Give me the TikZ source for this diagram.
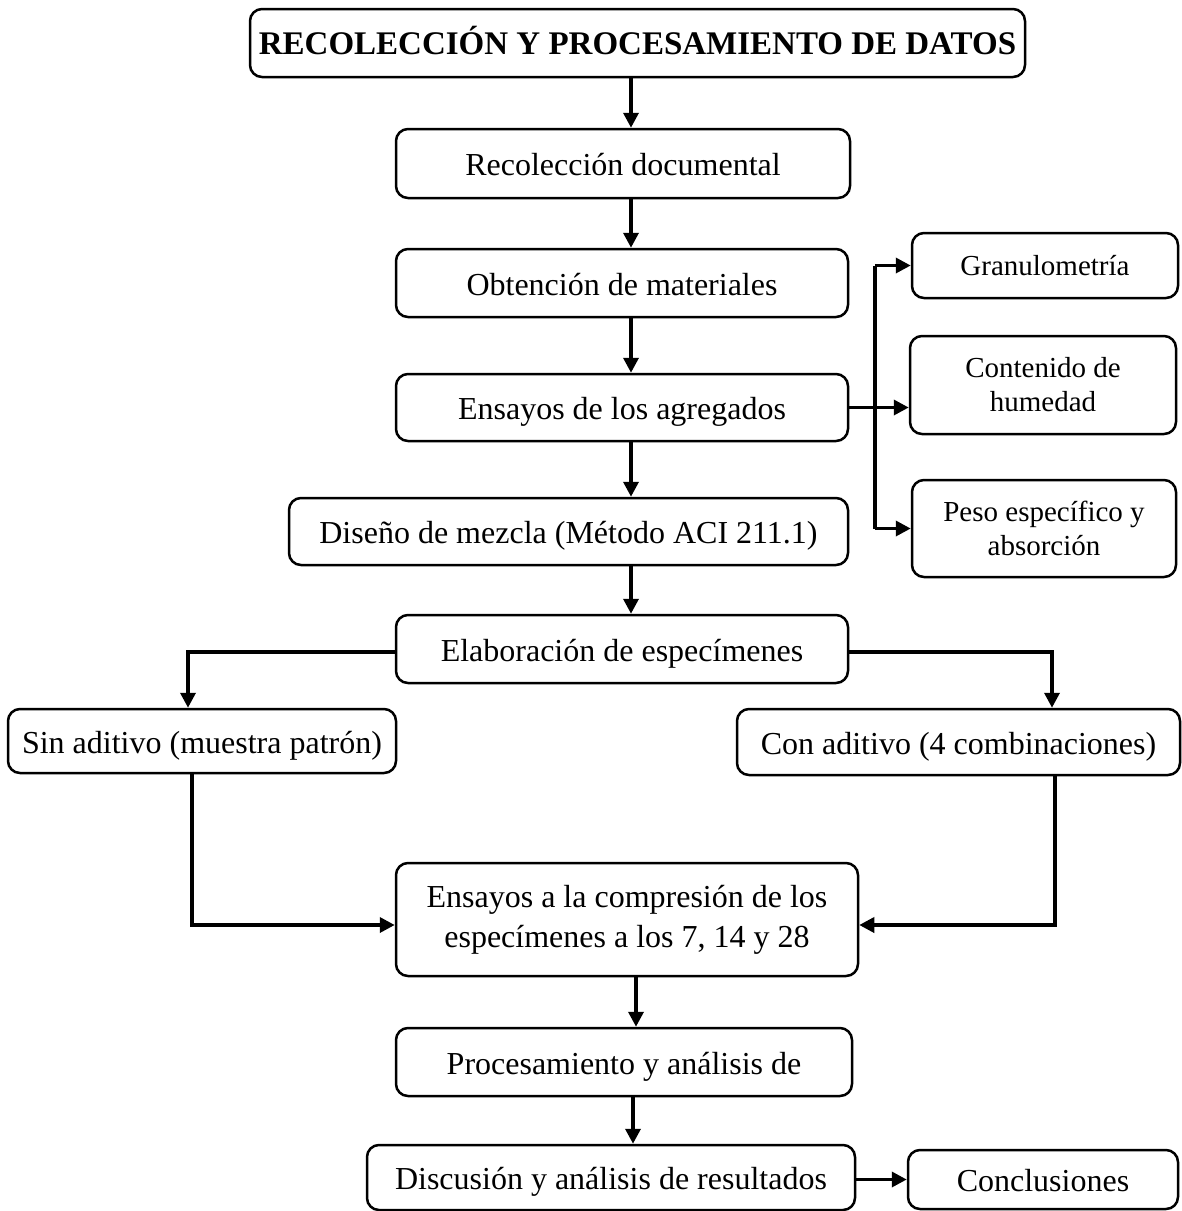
\documentclass[tikz,border=0pt]{standalone}
\usepackage{fontspec}
\setmainfont{Liberation Serif}
\usetikzlibrary{arrows.meta}
\begin{document}
\begin{tikzpicture}[x=1pt,y=-1pt,
 box/.style={draw, line width=2.5pt, rounded corners=12pt, inner sep=0pt, align=center, font=\fontsize{32}{40}\selectfont},
 one/.style={text height=30pt, text depth=6pt},
 sidebox/.style={box, font=\fontsize{29}{34}\selectfont},
 arr/.style={line width=3.5pt, -{Triangle[length=15pt,width=15pt]}},
 ln/.style={line width=3.5pt}]
\useasboundingbox (0,0) rectangle (1182,1211);
\node[box, minimum width=775pt, minimum height=68pt, text height=28pt, text depth=6pt, font=\bfseries\fontsize{33}{40}\selectfont] (title) at (637.5,43) {RECOLECCIÓN Y PROCESAMIENTO DE DATOS};
\node[box, one, minimum width=454pt, minimum height=69pt] (recol) at (623,163.5) {Recolección documental};
\node[box, one, minimum width=452pt, minimum height=68pt] (obt) at (622,283) {Obtención de materiales};
\node[box, one, minimum width=452pt, minimum height=67pt] (ensag) at (622,407.5) {Ensayos de los agregados};
\node[box, one, minimum width=559pt, minimum height=67pt] (diseno) at (568.5,531.5) {Diseño de mezcla (Método ACI 211.1)};
\node[sidebox, minimum width=266pt, minimum height=65pt] (gran) at (1045,265.5) {Granulometría};
\node[sidebox, minimum width=266pt, minimum height=98pt] (cont) at (1043,385) {Contenido de\\humedad};
\node[sidebox, minimum width=264pt, minimum height=97pt] (peso) at (1044,528.5) {Peso específico y\\absorción};
\node[box, one, minimum width=452pt, minimum height=68pt] (elab) at (622,649) {Elaboración de especímenes};
\node[box, one, minimum width=388pt, minimum height=64pt] (sin) at (202,741) {Sin aditivo (muestra patrón)};
\node[box, one, minimum width=443pt, minimum height=66pt] (con) at (958.5,742) {Con aditivo (4 combinaciones)};
\node[box, minimum width=462pt, minimum height=113pt] (comp) at (627,919.5) {Ensayos a la compresión de los\\especímenes a los 7, 14 y 28};
\node[box, one, minimum width=456pt, minimum height=68pt] (proc) at (624,1062) {Procesamiento y análisis de};
\node[box, one, minimum width=488pt, minimum height=65pt] (disc) at (611,1177.5) {Discusión y análisis de resultados};
\node[box, one, minimum width=270pt, minimum height=59pt] (concl) at (1043,1179.5) {Conclusiones};
% coordinates
\coordinate (cx) at (631,0);
\coordinate (cx2) at (636,0);
\coordinate (cx3) at (633,0);
\coordinate (tr) at (875,0);
\coordinate (ls) at (188,652);
\coordinate (rs) at (1052,652);
\coordinate (lb) at (192,925);
\coordinate (rb) at (1055,925);
% main column
\draw[arr] (title.south -| cx) -- (recol.north -| cx);
\draw[arr] (recol.south -| cx) -- (obt.north -| cx);
\draw[arr] (obt.south -| cx) -- (ensag.north -| cx);
\draw[arr] (ensag.south -| cx) -- (diseno.north -| cx);
\draw[arr] (diseno.south -| cx) -- (elab.north -| cx);
% side branches
\draw[arr] (ensag.east) -- (cont.west |- ensag.east);
\draw[arr] (tr |- gran.west) -- (gran.west);
\draw[arr] (tr |- peso.west) -- (peso.west);
\draw[ln] (tr |- gran.west) -- (tr |- peso.west);
% elaboration split
\draw[arr] (elab.west |- ls) -- (ls) -- (ls |- sin.north);
\draw[arr] (elab.east |- rs) -- (rs) -- (rs |- con.north);
% merge
\draw[arr] (lb |- sin.south) -- (lb) -- (comp.west |- lb);
\draw[arr] (rb |- con.south) -- (rb) -- (comp.east |- rb);
\draw[arr] (comp.south -| cx2) -- (proc.north -| cx2);
\draw[arr] (proc.south -| cx3) -- (disc.north -| cx3);
\draw[arr] (disc.east |- concl.west) -- (concl.west);
\end{tikzpicture}
\end{document}
